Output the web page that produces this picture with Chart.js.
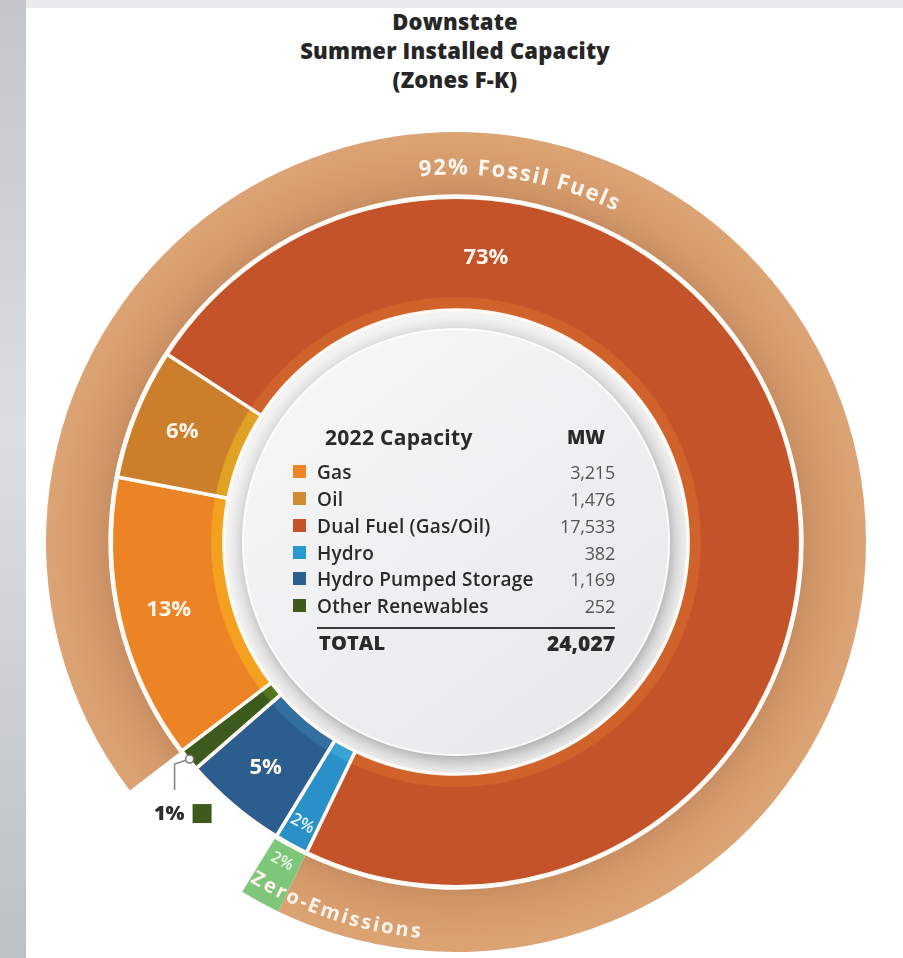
<!DOCTYPE html>
<html>
<head>
<meta charset="utf-8">
<script src="https://cdn.jsdelivr.net/npm/chart.js@4.4.1/dist/chart.umd.min.js"></script>
<style>
html,body{margin:0;padding:0;}
body{width:903px;height:958px;position:relative;overflow:hidden;background:#e8eaec;font-family:'Open Sans',sans-serif;}
#strip{position:absolute;left:0;top:0;width:26px;height:958px;background:linear-gradient(180deg,#c3c7cb 0%,#cfd3d6 25%,#dcdfe2 45%,#cdd1d4 70%,#bcc1c6 100%);}
#card{position:absolute;left:26px;top:8px;right:0;bottom:0;background:#fff;}
#title{position:absolute;left:0;width:910px;top:7px;text-align:center;font-weight:800;font-size:22px;line-height:29px;color:#262626;letter-spacing:0.2px;}
#chart{position:absolute;left:46px;top:132px;}
.t{position:absolute;white-space:nowrap;line-height:22px;height:22px;}
.lab{left:317px;font-size:19px;font-weight:600;color:#2a2a2a;letter-spacing:0.2px;}
.val{right:288px;font-size:18px;font-weight:400;color:#555;text-align:right;letter-spacing:-0.2px;}
.sq{position:absolute;left:293px;width:13px;height:13px;}
</style>
</head>
<body>
<div id="strip"></div>
<div id="card"></div>
<div id="title">Downstate<br>Summer Installed Capacity<br>(Zones F-K)</div>
<canvas id="chart" width="820" height="820"></canvas>
<div id="table"></div>
<script>
// ---- data ----
const categories = ['Gas', 'Oil', 'Dual Fuel (Gas/Oil)', 'Hydro', 'Hydro Pumped Storage', 'Other Renewables'];
const capacityMW = [3215, 1476, 17533, 382, 1169, 252];
const totalMW = 24027;
const tableTitle = '2022 Capacity';
const unitLabel = 'MW';
const totalLabel = 'TOTAL';
const fossilLabel = 'Fossil Fuels';
const zeroLabel = 'Zero-Emissions';

// ---- style ----
const baseColors  = ['#EC8324', '#CC7F2B', '#C4532A', '#2A90C8', '#2B5E8E', '#3D5A1D'];
const stripColors = ['#F3A11F', '#E0A222', '#D0622B', '#3AA3D6', '#336FA0', '#55741F'];
const legendColors = ['#EE8526', '#D08A2F', '#C4532A', '#2C98D0', '#2A5F90', '#3E5A1C'];
const tanColor = '#D89C6D';
const greenColor = '#7DC67A';
const ringOrder = [2, 3, 4, 5, 0, 1];   // drawing order around the ring
const startDeg = -57;

const fmt = n => n.toLocaleString('en-US');
const pct = v => Math.round(v / totalMW * 100) + '%';

// ---- table (HTML text) ----
(function buildTable() {
  const t = document.getElementById('table');
  let h = '';
  h += `<div class="t" style="left:325px;top:426px;font-size:21px;font-weight:700;color:#2a2a2a;letter-spacing:0.3px">${tableTitle}</div>`;
  h += `<div class="t" style="right:298px;top:426px;font-size:19px;font-weight:800;color:#2a2a2a;">${unitLabel}</div>`;
  const rowY = [472, 499, 526, 553, 579, 606];
  categories.forEach((c, i) => {
    h += `<div class="sq" style="top:${rowY[i] - 7}px;background:${legendColors[i]}"></div>`;
    h += `<div class="t lab" style="top:${rowY[i] - 11}px">${c}</div>`;
    h += `<div class="t val" style="top:${rowY[i] - 11}px">${fmt(capacityMW[i])}</div>`;
  });
  h += `<div style="position:absolute;left:317px;top:627px;width:298px;height:2px;background:#3a3a3a"></div>`;
  h += `<div class="t" style="left:319px;top:632px;font-size:20px;font-weight:800;color:#2a2a2a;letter-spacing:0.1px">${totalLabel}</div>`;
  h += `<div class="t" style="right:288px;top:632px;font-size:21px;font-weight:800;color:#2a2a2a;letter-spacing:0px">${fmt(totalMW)}</div>`;
  t.innerHTML = h;
})();

// ---- ring data ----
const innerData = ringOrder.map(i => capacityMW[i]);
const fossilMW = capacityMW[0] + capacityMW[1] + capacityMW[2];
const zeroMW = capacityMW[3];
const restMW = capacityMW[4] + capacityMW[5];
const gasStartDeg = startDeg + 360 * (capacityMW[2] + capacityMW[3] + capacityMW[4] + capacityMW[5]) / totalMW;

function center(chart) {
  const a = chart.chartArea;
  return [(a.left + a.right) / 2, (a.top + a.bottom) / 2];
}

function innerBg(ctx) {
  const i = ringOrder[ctx.dataIndex];
  const chart = ctx.chart;
  const ctrl = chart.getDatasetMeta(ctx.datasetIndex).controller;
  if (!chart.chartArea || !ctrl.outerRadius) return baseColors[i];
  const [cx, cy] = center(chart);
  const r0 = ctrl.innerRadius, r1 = ctrl.outerRadius;
  const g = chart.ctx.createRadialGradient(cx, cy, r0, cx, cy, r1);
  const f = 12 / (r1 - r0);
  g.addColorStop(0, stripColors[i]);
  g.addColorStop(f, stripColors[i]);
  g.addColorStop(f + 0.015, baseColors[i]);
  g.addColorStop(1, baseColors[i]);
  return g;
}

function outerBg(ctx) {
  if (ctx.dataIndex === 1) return greenColor;
  if (ctx.dataIndex === 2) return 'rgba(0,0,0,0)';
  const chart = ctx.chart;
  const ctrl = chart.getDatasetMeta(ctx.datasetIndex).controller;
  if (!chart.chartArea || !ctrl.outerRadius) return tanColor;
  const [cx, cy] = center(chart);
  const g = chart.ctx.createRadialGradient(cx, cy, ctrl.innerRadius, cx, cy, ctrl.outerRadius);
  g.addColorStop(0, '#C98F63');
  g.addColorStop(0.35, '#D59A6B');
  g.addColorStop(1, '#DCA474');
  return g;
}

function arcText(ctx, text, cx, cy, r, startRad, bottom, spacing) {
  const chars = [...text];
  const widths = chars.map(ch => ctx.measureText(ch).width + spacing);
  let ang = startRad;
  chars.forEach((ch, k) => {
    const w = widths[k];
    const mid = bottom ? ang - (w / 2) / r : ang + (w / 2) / r;
    const x = cx + r * Math.sin(mid), y = cy - r * Math.cos(mid);
    ctx.save();
    ctx.translate(x, y);
    ctx.rotate(bottom ? mid - Math.PI : mid);
    ctx.fillText(ch, 0, 0);
    ctx.restore();
    ang = bottom ? ang - w / r : ang + w / r;
  });
  return widths.reduce((a, b) => a + b, 0) / r;
}

const decor = {
  id: 'decor',
  afterDatasetsDraw(chart) {
    const ctx = chart.ctx;
    const [cx, cy] = center(chart);
    const inner = chart.getDatasetMeta(2);
    const outer = chart.getDatasetMeta(0);
    const rIn = inner.controller.innerRadius, rOut = inner.controller.outerRadius;
    const TAU = Math.PI * 2;
    ctx.save();
    // hole
    ctx.beginPath(); ctx.arc(cx, cy, rIn - 1.5, 0, TAU); ctx.fillStyle = '#f3f3f3'; ctx.fill();
    const sg = ctx.createRadialGradient(cx + 3, cy + 6, rIn - 28, cx + 3, cy + 6, rIn);
    sg.addColorStop(0, 'rgba(60,60,60,0.22)');
    sg.addColorStop(1, 'rgba(60,60,60,0)');
    ctx.beginPath(); ctx.arc(cx, cy, rIn - 1.5, 0, TAU); ctx.fillStyle = sg; ctx.fill();
    // disk
    ctx.save();
    ctx.shadowColor = 'rgba(0,0,0,0.18)'; ctx.shadowBlur = 12; ctx.shadowOffsetX = 2; ctx.shadowOffsetY = 4;
    const lg = ctx.createLinearGradient(cx - 150, cy - 200, cx + 150, cy + 200);
    lg.addColorStop(0, '#f7f7f8'); lg.addColorStop(1, '#e7e8ea');
    ctx.beginPath(); ctx.arc(cx, cy, rIn - 19, 0, TAU); ctx.fillStyle = lg; ctx.fill();
    ctx.restore();
    ctx.beginPath(); ctx.arc(cx, cy, rIn - 19, 0, TAU); ctx.strokeStyle = 'rgba(255,255,255,0.9)'; ctx.lineWidth = 2; ctx.stroke();

    // percentage labels in the inner ring
    ctx.textAlign = 'center'; ctx.textBaseline = 'middle';
    inner.data.forEach((arc, k) => {
      const i = ringOrder[k];
      if (i === 5) return;
      let ang = (arc.startAngle + arc.endAngle) / 2;
      let frac = 0.56;
      let font = '700 22px "Open Sans"';
      let col = '#FFF6EE';
      let rot = 0;
      if (i === 2) { ang = (6 - 90) * Math.PI / 180; frac = 0.48; }
      if (i === 3) { frac = 0.79; font = '600 17px "Open Sans"'; col = '#E6F3FA'; rot = ang - Math.PI / 2; }
      const r = rIn + frac * (rOut - rIn);
      const x = cx + r * Math.cos(ang), y = cy + r * Math.sin(ang);
      ctx.save();
      ctx.translate(x, y);
      ctx.rotate(rot);
      ctx.font = font; ctx.fillStyle = col;
      ctx.fillText(pct(capacityMW[i]), 0, 0);
      ctx.restore();
    });

    // outer band texts
    const oc = outer.controller;
    const rMid = (oc.innerRadius + oc.outerRadius) / 2;
    ctx.fillStyle = '#FFF7F0';
    ctx.font = '700 22px "Open Sans"';
    const fossilText = pct(fossilMW) + ' ' + fossilLabel;
    const sp = 2;
    const tmpW = [...fossilText].reduce((a, ch) => a + ctx.measureText(ch).width + sp, 0);
    const cDeg = 10 * Math.PI / 180;
    const rf = rMid - 5;
    arcText(ctx, fossilText, cx, cy, rf, cDeg - tmpW / rf / 2, false, sp);

    const green = outer.data[1];
    const gStartTop = green.startAngle + Math.PI / 2; // clockwise from top
    const gEndTop = green.endAngle + Math.PI / 2;
    // "2%" in green patch
    const gMid = (gStartTop + gEndTop) / 2;
    ctx.font = '600 16px "Open Sans"';
    ctx.fillStyle = '#EAF7E8';
    const r2 = oc.innerRadius + 16;
    ctx.save();
    ctx.translate(cx + r2 * Math.sin(gMid), cy - r2 * Math.cos(gMid));
    ctx.rotate(gMid - Math.PI);
    ctx.fillText(pct(zeroMW), 0, 0);
    ctx.restore();
    // Zero-Emissions along the bottom, starting in the green patch
    ctx.font = '700 20px "Open Sans"';
    ctx.fillStyle = '#FFF4EC';
    arcText(ctx, zeroLabel, cx, cy, oc.innerRadius + 44, gEndTop, true, 2.2);

    // 1% callout for Other Renewables
    const o = inner.data[ringOrder.indexOf(5)];
    const oa = (o.startAngle + o.endAngle) / 2;
    const dx = cx + (rOut - 1) * Math.cos(oa), dy = cy + (rOut - 1) * Math.sin(oa);
    ctx.strokeStyle = '#8a8a8a'; ctx.lineWidth = 1.6;
    ctx.beginPath(); ctx.moveTo(dx, dy); ctx.lineTo(dx - 15, dy + 5); ctx.lineTo(dx - 15, dy + 31); ctx.stroke();
    ctx.beginPath(); ctx.arc(dx, dy, 4, 0, TAU); ctx.fillStyle = '#fff'; ctx.fill(); ctx.strokeStyle = '#777'; ctx.lineWidth = 1.5; ctx.stroke();
    ctx.font = '800 20px "Open Sans"'; ctx.fillStyle = '#2e2e2e';
    ctx.textAlign = 'right';
    ctx.fillText(pct(capacityMW[5]), dx - 5, dy + 55);
    ctx.fillStyle = legendColors[5];
    ctx.fillRect(dx + 3, dy + 45, 19, 19);
    ctx.restore();
  }
};

new Chart(document.getElementById('chart'), {
  type: 'doughnut',
  data: {
    labels: categories,
    datasets: [
      { data: [fossilMW, zeroMW, restMW], rotation: gasStartDeg, weight: 62,
        backgroundColor: outerBg, borderWidth: 0, hoverBorderWidth: 0, hoverOffset: 0, offset: 0, order: 1 },
      { data: [1], weight: 3, backgroundColor: 'rgba(0,0,0,0)', borderWidth: 0, hoverOffset: 0, order: 2 },
      { data: innerData, weight: 112, backgroundColor: innerBg, borderColor: '#FFFAF3', borderWidth: 3.5,
        hoverBorderWidth: 3.5, hoverOffset: 0, offset: 0, order: 0 }
    ]
  },
  options: {
    responsive: false,
    animation: false,
    events: [],
    rotation: startDeg,
    cutout: '56.6%',
    layout: { padding: 0 },
    plugins: { legend: { display: false }, tooltip: { enabled: false } }
  },
  plugins: [decor]
});
</script>
</body>
</html>
